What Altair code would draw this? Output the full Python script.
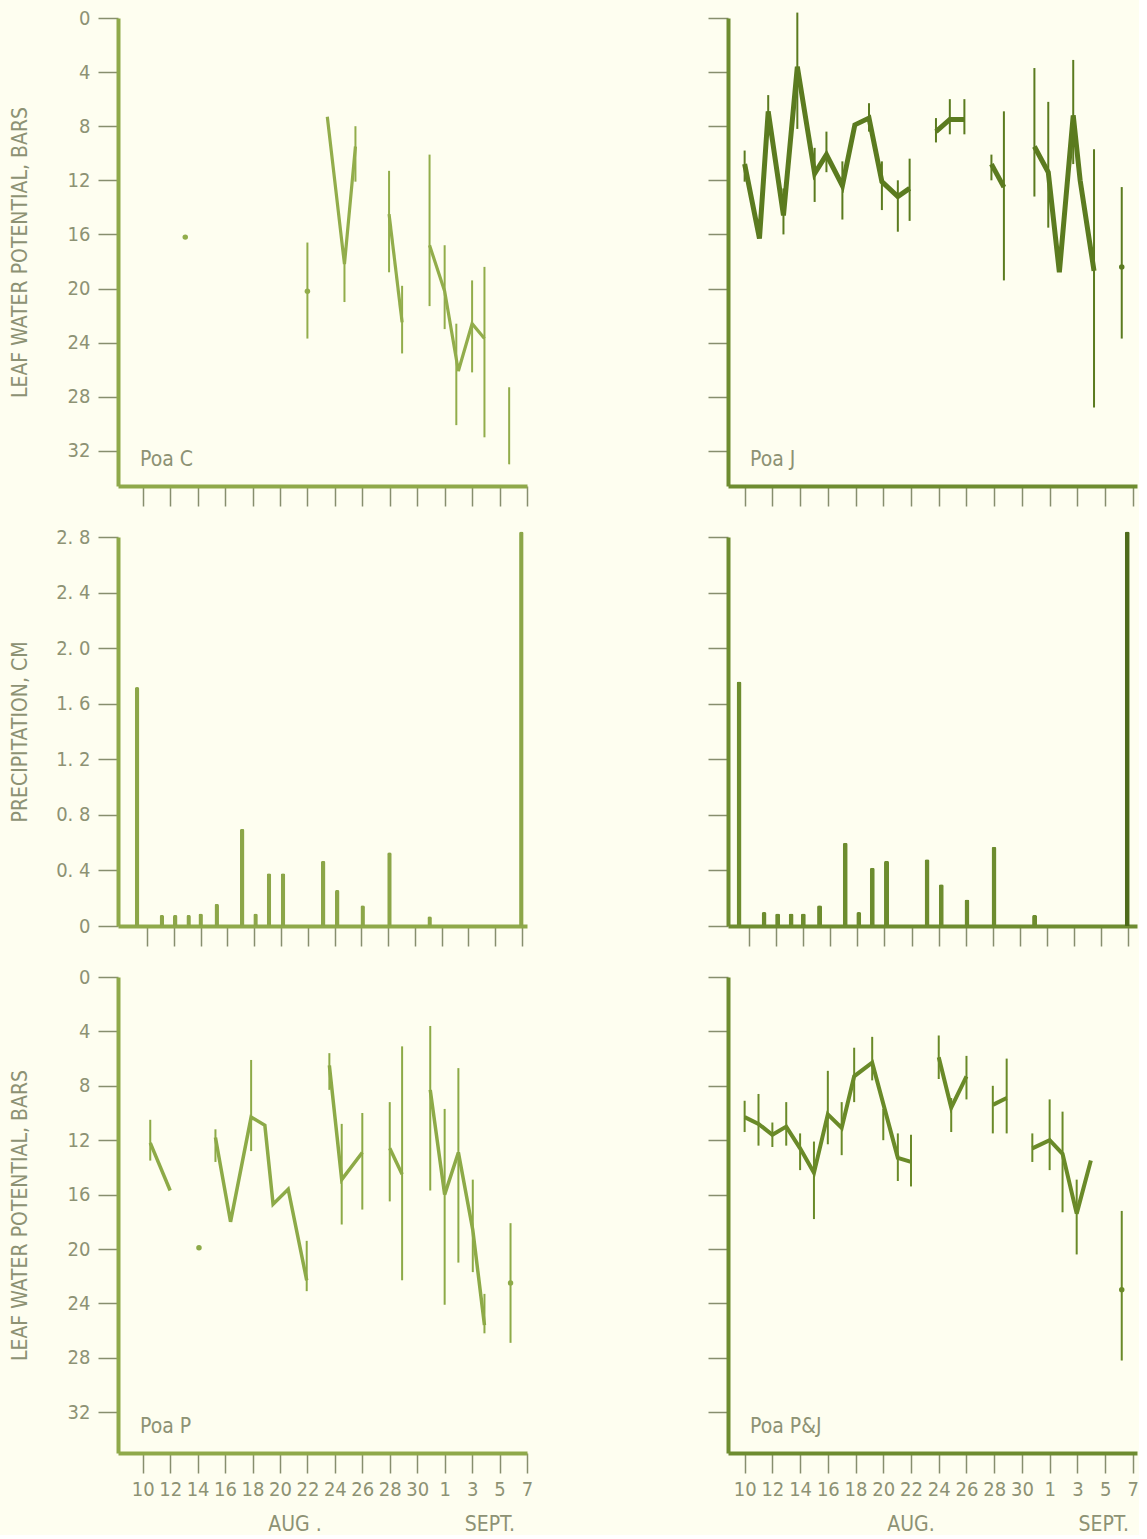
import altair as alt
import pandas as pd

BG = "#FEFEF0"
FONT = "Liberation Sans Narrow, DejaVu Sans Condensed, Arial Narrow, sans-serif"
LABEL = "#8D9274"
TICK = "#878E6E"

# ---------------- x axis: days after Aug 10 (21 = Aug 31, 22 = Sep 1, 28 = Sep 7)
tick_days = list(range(0, 29, 2))
tick_labels = ["10", "12", "14", "16", "18", "20", "22", "24", "26", "28", "30", "1", "3", "5", "7"]

lwp_ticks = [0, 4, 8, 12, 16, 20, 24, 28, 32]
precip_ticks = [0, 0.4, 0.8, 1.2, 1.6, 2.0, 2.4, 2.8]
precip_labels = ["0", "0. 4", "0. 8", "1. 2", "1. 6", "2. 0", "2. 4", "2. 8"]

# ---------------- Poa C
poac_line_day = [13.45, 14.7, 15.5, 17.95, 18.9, 20.9, 22.0, 23.0, 24.0, 24.9]
poac_line_val = [7.3, 18.2, 9.5, 14.5, 22.5, 16.8, 20.2, 26.1, 22.6, 23.7]
poac_line_seg = [1, 1, 1, 2, 2, 3, 3, 3, 3, 3]
poac_eb_day = [12.0, 14.7, 15.5, 17.95, 18.9, 20.9, 22.0, 22.85, 24.0, 24.9, 26.7]
poac_eb_lo = [16.6, 17.4, 8.0, 11.3, 19.8, 10.1, 16.8, 22.6, 19.4, 18.4, 27.3]
poac_eb_hi = [23.7, 21.0, 12.1, 18.8, 24.8, 21.3, 23.0, 30.1, 26.2, 31.0, 33.0]
poac_pt_day = [3.1, 12.0]
poac_pt_val = [16.2, 20.2]

# ---------------- Poa J
poaj_line_day = [0.0, 1.07, 1.7, 2.8, 3.8, 5.05, 5.9, 7.05, 7.95, 8.97, 9.9, 11.05, 11.9,
                 13.8, 14.8, 15.85, 17.8, 18.7, 20.9, 21.9, 22.7, 23.7, 24.2, 25.2]
poaj_line_val = [10.8, 16.3, 6.9, 14.6, 3.6, 11.5, 10.1, 12.4, 7.9, 7.4, 12.1, 13.2, 12.6,
                 8.4, 7.5, 7.5, 10.8, 12.5, 9.5, 11.4, 18.8, 7.2, 12.0, 18.7]
poaj_line_seg = [1] * 13 + [2] * 3 + [3] * 2 + [4] * 6
poaj_eb_day = [0.0, 1.7, 2.8, 3.8, 5.05, 5.9, 7.05, 8.97, 9.9, 11.05, 11.9, 13.8, 14.8, 15.85,
               17.8, 18.7, 20.9, 21.9, 23.7, 25.2, 27.2]
poaj_eb_lo = [9.8, 5.7, 12.6, -0.4, 9.6, 8.4, 10.6, 6.3, 10.6, 12.0, 10.4, 7.4, 6.0, 6.0,
              10.1, 6.9, 3.7, 6.2, 3.1, 9.7, 12.5]
poaj_eb_hi = [12.1, 8.7, 16.0, 8.2, 13.6, 11.4, 14.9, 8.4, 14.2, 15.8, 15.0, 9.2, 8.6, 8.6,
              12.0, 19.4, 13.2, 15.5, 10.8, 28.8, 23.7]
poaj_pt_day = [27.2]
poaj_pt_val = [18.4]

# ---------------- Poa P
poap_line_day = [0.55, 2.0, 5.3, 6.4, 7.9, 8.9, 9.5, 10.6, 11.95, 13.6, 14.5, 16.0, 18.0, 18.9,
                 20.95, 22.0, 23.0, 24.05, 24.9]
poap_line_val = [12.2, 15.7, 11.8, 18.0, 10.3, 10.9, 16.7, 15.6, 22.3, 6.5, 14.9, 12.9, 12.6, 14.5,
                 8.3, 16.0, 12.9, 18.6, 25.6]
poap_line_seg = [1, 1, 2, 2, 2, 2, 2, 2, 2, 3, 3, 3, 4, 4, 5, 5, 5, 5, 5]
poap_eb_day = [0.55, 5.3, 7.9, 11.95, 13.6, 14.5, 16.0, 18.0, 18.9, 20.95, 22.0, 23.0, 24.05, 24.9, 26.8]
poap_eb_lo = [10.5, 11.2, 6.1, 19.4, 5.6, 10.8, 10.0, 9.2, 5.1, 3.6, 9.7, 6.7, 14.9, 23.3, 18.1]
poap_eb_hi = [13.5, 13.6, 12.8, 23.1, 8.3, 18.2, 17.1, 16.5, 22.3, 15.7, 24.1, 21.0, 21.7, 26.2, 26.9]
poap_pt_day = [4.1, 26.8]
poap_pt_val = [19.9, 22.5]

# ---------------- Poa P&J
poapj_line_day = [0.0, 1.0, 2.0, 3.0, 4.0, 5.0, 6.0, 7.0, 7.9, 9.2, 11.05, 12.0,
                  14.0, 14.9, 16.0, 17.9, 18.9, 20.75, 22.0, 22.93, 23.95, 24.97]
poapj_line_val = [10.3, 10.8, 11.6, 11.0, 12.6, 14.4, 10.1, 11.1, 7.3, 6.3, 13.3, 13.6,
                  5.9, 9.6, 7.3, 9.4, 8.9, 12.6, 12.0, 13.0, 17.4, 13.5]
poapj_line_seg = [1] * 12 + [2] * 3 + [3] * 2 + [4] * 5
poapj_eb_day = [0.0, 1.0, 2.0, 3.0, 4.0, 5.0, 6.0, 7.0, 7.9, 9.2, 10.0, 11.05, 12.0,
                14.0, 14.9, 16.0, 17.9, 18.9, 20.75, 22.0, 22.93, 23.95, 27.2]
poapj_eb_lo = [9.1, 8.6, 10.7, 9.2, 11.5, 12.1, 6.9, 9.2, 5.2, 4.4, 9.7, 11.5, 11.6,
               4.3, 8.9, 5.8, 8.0, 6.0, 11.5, 9.0, 9.9, 14.9, 17.2]
poapj_eb_hi = [11.4, 12.4, 12.5, 12.4, 14.2, 17.8, 12.3, 13.1, 9.2, 7.6, 12.0, 15.0, 15.4,
               7.5, 11.4, 9.0, 11.5, 11.5, 13.6, 14.2, 17.3, 20.4, 28.2]
poapj_pt_day = [27.2]
poapj_pt_val = [23.0]

# ---------------- precipitation, cm
precip_day = [-0.75, 1.1, 2.1, 3.1, 4.0, 5.2, 7.1, 8.1, 9.1, 10.15, 13.15, 14.2, 16.1, 18.1, 21.1, 27.95]
precip_left = [1.72, 0.08, 0.08, 0.08, 0.09, 0.16, 0.70, 0.09, 0.38, 0.38, 0.47, 0.26, 0.15, 0.53, 0.07, 2.84]
precip_right = [1.76, 0.10, 0.09, 0.09, 0.09, 0.15, 0.60, 0.10, 0.42, 0.47, 0.48, 0.30, 0.19, 0.57, 0.08, 2.84]

month_day_left = [11.1, 25.3]
month_day_right = [12.0, 25.9]
month_text_left = ["AUG .", "SEPT."]
month_text_right = ["AUG.", "SEPT."]


def label_expr(values, labels):
    expr = "''"
    for v, l in reversed(list(zip(values, labels))):
        expr = f"abs(datum.value - {v}) < 0.001 ? '{l}' : " + expr
    return expr


X_EXPR = label_expr(tick_days, tick_labels)
P_EXPR = label_expr(precip_ticks, precip_labels)

W = 409
H_TOP, H_MID, H_BOT = 468, 389, 476
XDOM_L = [-1.8, 28.0]
XDOM_R = [-1.2, 28.3]


def x_axis(show, dcolor):
    return alt.Axis(values=tick_days, labels=show, labelExpr=X_EXPR, title=None, grid=False,
                    tickSize=20, tickWidth=1.5, tickColor=TICK, domainColor=dcolor, domainWidth=4,
                    labelFont=FONT, labelFontSize=20, labelColor=LABEL, labelPadding=6,
                    labelOverlap=False, labelFlush=False)


def y_axis(values, show, title, dcolor, expr=None):
    kw = dict(values=values, labels=show, grid=False, tickSize=20, tickWidth=1.5, tickColor=TICK,
              domainColor=dcolor, domainWidth=4, labelFont=FONT, labelFontSize=20,
              labelColor=LABEL, labelPadding=8, labelOverlap=False, labelFlush=False)
    if expr is not None:
        kw["labelExpr"] = expr
    if title:
        kw.update(title=title, titleFont=FONT, titleFontSize=21, titleFontWeight="normal",
                  titleColor=LABEL, titleX=-98, titleBaseline="middle")
    else:
        kw["title"] = None
    return alt.Axis(**kw)


def lwp_panel(ld, lv, ls, ed, elo, ehi, pd_, pv, name, color, lw, ew, dcolor, xdom, h, ymax,
              show_y, show_x, title, mday=None, mtext=None):
    xs = alt.Scale(domain=xdom, nice=False, zero=False)
    ys = alt.Scale(domain=[0, ymax], reverse=True, nice=False, zero=False)
    xa = x_axis(show_x, dcolor)
    ya = y_axis(lwp_ticks, show_y, title, dcolor)

    def X():
        return alt.X("day:Q", scale=xs, axis=xa)

    def Y(f):
        return alt.Y(f"{f}:Q", scale=ys, axis=ya)

    line = alt.Chart(pd.DataFrame({"day": ld, "val": lv, "seg": ls})).mark_line(
        color=color, strokeWidth=lw).encode(x=X(), y=Y("val"), detail="seg:N")
    rules = alt.Chart(pd.DataFrame({"day": ed, "lo": elo, "hi": ehi})).mark_rule(
        color=color, strokeWidth=ew).encode(x=X(), y=Y("lo"), y2="hi:Q")
    pts = alt.Chart(pd.DataFrame({"day": pd_, "val": pv})).mark_circle(
        color=color, size=30, opacity=1).encode(x=X(), y=Y("val"))
    lab = alt.Chart(pd.DataFrame({"name": [name]})).mark_text(
        align="left", baseline="middle", font=FONT, fontSize=21, color=LABEL).encode(
        text="name:N", x=alt.value(22), y=alt.value(h - 26))
    layers = [line, rules, pts, lab]
    if mday is not None:
        mon = alt.Chart(pd.DataFrame({"day": mday, "txt": mtext})).mark_text(
            baseline="middle", font=FONT, fontSize=21, color=LABEL).encode(
            x=X(), y=alt.value(h + 72), text="txt:N")
        layers.append(mon)
    return alt.layer(*layers).properties(width=W, height=h)


def precip_panel(vals, xdom, color, dark, dcolor, show_y, title, bw):
    xs = alt.Scale(domain=xdom, nice=False, zero=False)
    ys = alt.Scale(domain=[0, 2.8], nice=False, zero=True)
    df = pd.DataFrame({"day": precip_day, "val": vals})
    bars = alt.Chart(df).mark_bar(size=bw, cornerRadiusEnd=2).encode(
        x=alt.X("day:Q", scale=xs, axis=x_axis(False, dcolor)),
        y=alt.Y("val:Q", scale=ys, axis=y_axis(precip_ticks, show_y, title, dcolor, P_EXPR)),
        color=alt.condition(alt.datum.day > 27, alt.value(dark), alt.value(color)),
    )
    return bars.properties(width=W, height=H_MID)


LEFT_AX = "#8FA94A"
RIGHT_AX = "#6E8C30"

p_c = lwp_panel(poac_line_day, poac_line_val, poac_line_seg, poac_eb_day, poac_eb_lo, poac_eb_hi,
                poac_pt_day, poac_pt_val, "Poa C", "#92AD4B", 3.2, 2, LEFT_AX, XDOM_L, H_TOP, 34.6,
                True, False, "LEAF WATER POTENTIAL, BARS")
p_j = lwp_panel(poaj_line_day, poaj_line_val, poaj_line_seg, poaj_eb_day, poaj_eb_lo, poaj_eb_hi,
                poaj_pt_day, poaj_pt_val, "Poa J", "#5B7B1F", 5, 2, RIGHT_AX, XDOM_R, H_TOP, 34.6,
                False, False, None)
pr_l = precip_panel(precip_left, XDOM_L, "#8CA648", "#8CA648", LEFT_AX, True, "PRECIPITATION, CM", 4.5)
pr_r = precip_panel(precip_right, XDOM_R, "#6D8C2E", "#4E6B1A", RIGHT_AX, False, None, 5)
p_p = lwp_panel(poap_line_day, poap_line_val, poap_line_seg, poap_eb_day, poap_eb_lo, poap_eb_hi,
                poap_pt_day, poap_pt_val, "Poa P", "#8DAA47", 3.5, 2, LEFT_AX, XDOM_L, H_BOT, 35.0,
                True, True, "LEAF WATER POTENTIAL,  BARS", month_day_left, month_text_left)
p_pj = lwp_panel(poapj_line_day, poapj_line_val, poapj_line_seg, poapj_eb_day, poapj_eb_lo, poapj_eb_hi,
                 poapj_pt_day, poapj_pt_val, "Poa P&J", "#6A8A28", 4, 2, RIGHT_AX, XDOM_R, H_BOT, 35.0,
                 False, True, None, month_day_right, month_text_right)

chart = alt.concat(p_c, p_j, pr_l, pr_r, p_p, p_pj, columns=2,
                   spacing={"row": 51, "column": 201}, bounds="flush").properties(
    background=BG, padding={"left": 8, "top": 8, "right": 0, "bottom": 0}
).configure_view(stroke=None)

chart.save("out.html", embed_options={"renderer": "svg", "actions": False})
